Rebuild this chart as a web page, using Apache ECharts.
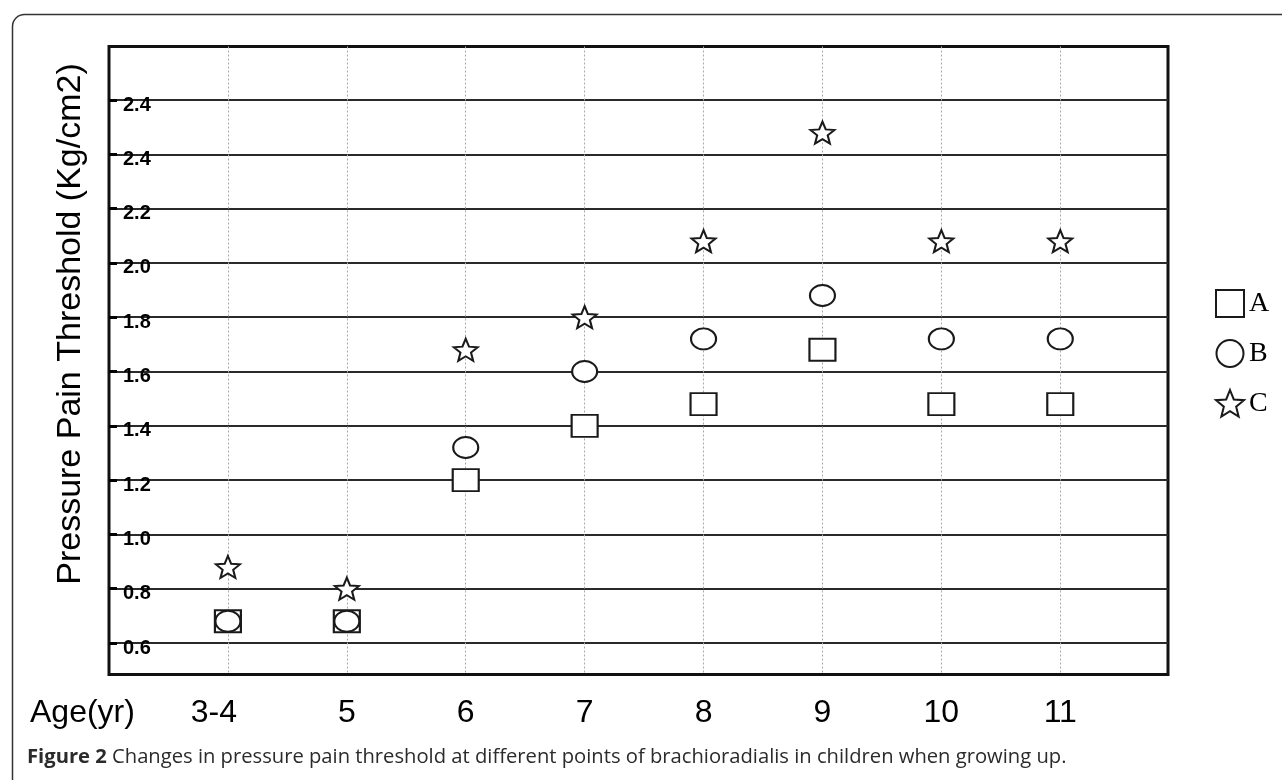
<!DOCTYPE html>
<html>
<head>
<meta charset="utf-8">
<script src="https://cdn.jsdelivr.net/npm/echarts@6/dist/echarts.min.js"></script>
<style>
html,body{margin:0;padding:0;background:#fff;}
#chart{width:1282px;height:780px;}
</style>
</head>
<body>
<div id="chart"></div>
<script>
// ---- data ----
const categories = ['3-4', '5', '6', '7', '8', '9', '10', '11'];
const seriesA = [0.68, 0.68, 1.20, 1.40, 1.48, 1.68, 1.48, 1.48];
const seriesB = [0.68, 0.68, 1.32, 1.60, 1.72, 1.88, 1.72, 1.72];
const seriesC = [0.88, 0.80, 1.68, 1.80, 2.08, 2.48, 2.08, 2.08];
const yTickValues = [0.6, 0.8, 1.0, 1.2, 1.4, 1.6, 1.8, 2.0, 2.2, 2.4, 2.6];
const yTickLabels = ['0.6', '0.8', '1.0', '1.2', '1.4', '1.6', '1.8', '2.0', '2.2', '2.4', '2.4'];
const seriesNames = ['A', 'B', 'C'];

const starPath = 'path://M50,0 L62.93,32.2 L97.55,34.55 L70.92,56.8 L79.39,90.45 L50,72 L20.61,90.45 L29.08,56.8 L2.45,34.55 L37.07,32.2 Z';
const ellipsePath = 'path://M0,50 A50,50 0 1,1 100,50 A50,50 0 1,1 0,50 Z';

const chart = echarts.init(document.getElementById('chart'), null, {renderer: 'canvas'});

function pts(arr) { return arr.map((v, i) => [i, v]); }
const markStyle = {color: '#ffffff', borderColor: '#1a1a1a', borderWidth: 2, opacity: 1};

chart.setOption({
  animation: false,
  backgroundColor: '#ffffff',
  grid: {
    left: 109, top: 46.5, width: 1059, height: 628,
    show: true, borderColor: '#111', borderWidth: 3, backgroundColor: 'transparent'
  },
  xAxis: {
    type: 'value', min: -1, max: 7.906,
    axisLine: {show: false, onZero: false},
    axisTick: {show: false, customValues: categories.map((c, i) => i)},
    axisLabel: {
      customValues: categories.map((c, i) => i),
      formatter: v => { const i = Math.round(v); return i === 0 ? '{first|' + categories[i] + '}' : categories[i]; },
      fontFamily: 'Liberation Sans, Arial, sans-serif', fontSize: 32, color: '#000', margin: 23,
      rich: {first: {fontFamily: 'Liberation Sans, Arial, sans-serif', fontSize: 32, color: '#000', padding: [0, 28, 0, 0]}}
    },
    splitLine: {show: true, lineStyle: {color: '#a8a8a8', type: [2, 2], width: 1}}
  },
  yAxis: {
    type: 'value', min: 0.484, max: 2.797,
    axisLine: {show: false, onZero: false},
    axisTick: {show: true, inside: true, length: 8, customValues: yTickValues, lineStyle: {color: '#000', width: 3}},
    axisLabel: {
      inside: true, customValues: yTickValues, margin: 14,
      formatter: v => { const i = yTickValues.findIndex(t => Math.abs(t - v) < 1e-6); return i >= 0 ? yTickLabels[i] : ''; },
      fontFamily: 'Liberation Sans, Arial, sans-serif', fontSize: 20, fontWeight: 'bold', color: '#000',
      verticalAlign: 'top', lineHeight: 10
    },
    splitLine: {show: true, lineStyle: {color: '#2a2a2a', width: 2}}
  },
  legend: {
    orient: 'vertical', left: 1210, top: 284,
    itemWidth: 28, itemHeight: 27, itemGap: 21,
    textStyle: {fontFamily: 'Liberation Serif, DejaVu Serif, serif', fontSize: 28, color: '#000'},
    data: seriesNames
  },
  series: [
    {name: seriesNames[0], type: 'scatter', data: pts(seriesA), symbol: 'rect', symbolSize: [26, 22], itemStyle: markStyle, z: 3},
    {name: seriesNames[1], type: 'scatter', data: pts(seriesB), symbol: ellipsePath, symbolSize: [25, 21], itemStyle: markStyle, z: 4},
    {name: seriesNames[2], type: 'scatter', data: pts(seriesC), symbol: starPath, symbolSize: [24, 22], itemStyle: markStyle, z: 5}
  ],
  graphic: [
    {type: 'rect', left: 10, top: 12, shape: {width: 1400, height: 900, r: 12}, style: {fill: 'none', stroke: '#333', lineWidth: 1.5}, z: -1, silent: true},
    {type: 'text', x: 71, y: 324, rotation: Math.PI / 2,
      style: {text: 'Pressure Pain Threshold (Kg/cm2)', fontFamily: 'Liberation Sans, Arial, sans-serif', fontSize: 34, fill: '#000', align: 'center', verticalAlign: 'middle'}},
    {type: 'text', x: 30, y: 713,
      style: {text: 'Age(yr)', fontFamily: 'Liberation Sans, Arial, sans-serif', fontSize: 32, fill: '#000', align: 'left', verticalAlign: 'middle'}},
    {type: 'text', x: 27, y: 757,
      style: {
        text: '{b|Figure 2} Changes in pressure pain threshold at different points of brachioradialis in children when growing up.',
        fontFamily: 'Open Sans, sans-serif', fontSize: 20.2, fill: '#2b2b2b', verticalAlign: 'middle',
        rich: {b: {fontFamily: 'Open Sans, sans-serif', fontSize: 20.2, fontWeight: 'bold', fill: '#2b2b2b'}}
      }}
  ]
});
</script>
</body>
</html>
